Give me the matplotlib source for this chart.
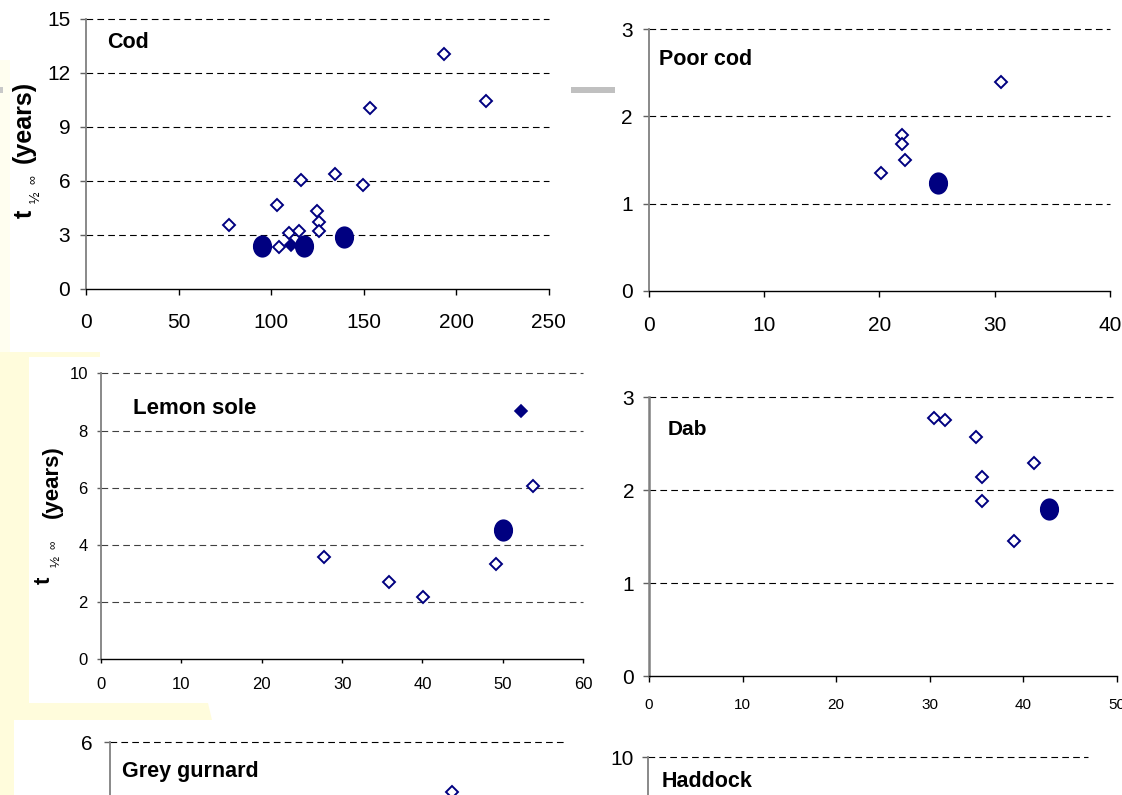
import matplotlib
matplotlib.use("Agg")
import matplotlib.pyplot as plt
from matplotlib.patches import Polygon, Rectangle
from matplotlib.path import Path

plt.rcParams['font.family'] = ['Liberation Sans', 'DejaVu Sans']

W, H = 1122, 795
NAVY = '#000080'
NARROW = ['Liberation Sans Narrow', 'Liberation Sans', 'DejaVu Sans']

# ---- data ----
cod_open_x = [77.2, 103.0, 104.2, 109.6, 115.2, 116.0, 124.6, 125.8, 125.8, 134.4, 149.8, 153.6, 193.6, 216.4]
cod_open_y = [3.56, 4.67, 2.32, 3.10, 3.23, 6.03, 4.30, 3.69, 3.19, 6.40, 5.77, 10.07, 13.05, 10.46]
cod_fill_x = [110.6]
cod_fill_y = [2.43]
cod_mean_x = [95.0, 117.8, 139.4]
cod_mean_y = [2.39, 2.36, 2.88]

poor_open_x = [20.1, 22.0, 22.0, 22.2, 30.5]
poor_open_y = [1.35, 1.79, 1.68, 1.50, 2.39]
poor_mean_x = [25.1]
poor_mean_y = [1.24]

lemon_open_x = [27.7, 35.8, 40.05, 49.2, 53.8]
lemon_open_y = [3.57, 2.70, 2.17, 3.33, 6.05]
lemon_fill_x = [52.2]
lemon_fill_y = [8.67]
lemon_mean_x = [50.0]
lemon_mean_y = [4.52]

dab_open_x = [30.5, 31.7, 35.0, 41.2, 35.6, 35.6, 39.0]
dab_open_y = [2.78, 2.76, 2.57, 2.29, 2.14, 1.88, 1.45]
dab_mean_x = [42.8]
dab_mean_y = [1.80]

gurnard_open_x = [37.6]
gurnard_open_y = [4.9]

cod_xticks = [0, 50, 100, 150, 200, 250]
cod_yticks = [0, 3, 6, 9, 12, 15]
poor_xticks = [0, 10, 20, 30, 40]
poor_yticks = [0, 1, 2, 3]
lemon_xticks = [0, 10, 20, 30, 40, 50, 60]
lemon_yticks = [0, 2, 4, 6, 8, 10]
dab_xticks = [0, 10, 20, 30, 40, 50]
dab_yticks = [0, 1, 2, 3]
gurnard_yticks = [6]     # only the top tick is inside the picture
haddock_yticks = [10]

fig = plt.figure(figsize=(W / 100, H / 100), dpi=100)

def fx(x):
    return x / W

def fy(y):
    return 1 - y / H

# slide remnants: pale yellow strips and grey bars
yellow = '#FFFCDC'
fig.add_artist(Rectangle((0, fy(352)), fx(10), fy(60) - fy(352), transform=fig.transFigure,
                         color='#FFFEF0', lw=0, zorder=-2))
fig.add_artist(Polygon([(fx(0), fy(352)), (fx(100), fy(352)), (fx(100), fy(357)), (fx(29), fy(357)),
                        (fx(29), fy(703)), (fx(208), fy(703)), (fx(212), fy(720)), (fx(14), fy(720)),
                        (fx(14), fy(800)), (fx(0), fy(800))],
                       closed=True, transform=fig.transFigure, color=yellow, lw=0, zorder=-1))
fig.add_artist(Rectangle((fx(571), fy(93)), fx(44), fy(87) - fy(93), transform=fig.transFigure,
                         color='#C0C0C0', lw=0))
fig.add_artist(Rectangle((fx(0), fy(93)), fx(3), fy(87) - fy(93), transform=fig.transFigure,
                         color='#C8C8C8', lw=0))

circ = Path.unit_circle()
oval = Path(circ.vertices * [1, 1.16], circ.codes)


def panel(left, right, top, bottom, xlim, xticks, ylim, yticks,
          fsx, fsy, famx, famy, padx, pady, tlen, ylw=1.3, gcol='black'):
    ax = fig.add_axes([fx(left), fy(bottom), fx(right - left), fy(top) - fy(bottom)])
    ax.set_facecolor('none')
    ax.set_xlim(xlim)
    ax.set_ylim(ylim)
    ax.set_xticks(xticks if xticks is not None else [])
    ax.set_yticks(yticks)
    ax.spines[['top', 'right']].set_visible(False)
    ax.spines['left'].set_color('#808080')
    ax.spines['left'].set_linewidth(ylw)
    ax.spines['bottom'].set_color('black')
    ax.spines['bottom'].set_linewidth(1.0)
    ax.tick_params(axis='x', direction='out', length=tlen, width=1, pad=padx, labelsize=fsx)
    ax.tick_params(axis='y', direction='out', length=tlen, width=1, pad=pady, labelsize=fsy,
                   color='#606060')
    for lab in ax.get_xticklabels():
        lab.set_fontfamily(famx)
    for lab in ax.get_yticklabels():
        lab.set_fontfamily(famy)
    ax.hlines([t for t in yticks if t > 0], xlim[0], xlim[1], colors=gcol,
              linestyles=(0, (6, 3.8)), lw=0.8, clip_on=False, zorder=1)
    return ax


def points(ax, ox, oy, fx_=None, fy_=None, mx=None, my=None):
    ax.plot(ox, oy, ls='none', marker='D', ms=6.1, mfc='white', mec=NAVY, mew=1.4,
            clip_on=False, zorder=3)
    if fx_ is not None:
        ax.plot(fx_, fy_, ls='none', marker='D', ms=6.1, mfc=NAVY, mec=NAVY, mew=1.2,
                clip_on=False, zorder=4)
    if mx is not None:
        ax.plot(mx, my, ls='none', marker=oval, ms=16, mfc=NAVY, mec=NAVY, mew=0,
                clip_on=False, zorder=5)


def title(x, y, s, fs):
    fig.text(fx(x), fy(y), s, fontsize=fs, fontweight='bold', ha='left', va='baseline')


def ylabel(parts):
    # parts: (text, baseline x px, start y px, fontsize, bold)
    for s, bx, sy, fs, bold in parts:
        fig.text(fx(bx), fy(sy), s, rotation=90, rotation_mode='anchor', ha='left',
                 va='baseline', fontsize=fs, fontweight='bold' if bold else 'normal')


# Cod
ax = panel(86, 548.6, 19, 288.7, (0, 250), cod_xticks, (0, 15), cod_yticks,
           15, 15, 'Liberation Sans', 'Liberation Sans', 13, 7, 4.3)
points(ax, cod_open_x, cod_open_y, cod_fill_x, cod_fill_y, cod_mean_x, cod_mean_y)
title(107, 48.5, 'Cod', 15.5)
ylabel([('t', 32, 218, 18, True), ('½', 40, 203, 10, False), ('∞', 36, 184, 9, False),
        ('(years)', 30.5, 163, 18, True)])

# Poor cod
ax = panel(648.5, 1110.2, 29.3, 290.7, (0, 40), poor_xticks, (0, 3), poor_yticks,
           15, 15, 'Liberation Sans', 'Liberation Sans', 14, 7, 4.5)
points(ax, poor_open_x, poor_open_y, mx=poor_mean_x, my=poor_mean_y)
title(658.6, 65, 'Poor cod', 15.5)

# Lemon sole
ax = panel(101, 583.2, 373.3, 659.3, (0, 60), lemon_xticks, (0, 10), lemon_yticks,
           12, 12, NARROW, NARROW, 10, 6.5, 3, gcol='#404040')
points(ax, lemon_open_x, lemon_open_y, lemon_fill_x, lemon_fill_y, lemon_mean_x, lemon_mean_y)
title(133.2, 414, 'Lemon sole', 16)
ylabel([('t', 50, 584, 16, True), ('½', 60, 567, 9.5, False), ('∞', 57, 549, 8.5, False),
        ('(years)', 57.5, 518, 16, True)])

# Dab
ax = panel(649, 1116.6, 397.3, 676, (0, 50), dab_xticks, (0, 3), dab_yticks,
           11, 15, NARROW, 'Liberation Sans', 11.5, 6.5, 4.3, ylw=1.8)
points(ax, dab_open_x, dab_open_y, mx=dab_mean_x, my=dab_mean_y)
title(667.4, 435, 'Dab', 15)

# Grey gurnard (cut off by the bottom edge)
ax = panel(110, 565, 742.3, 1012, (0, 50), None, (0, 6), gurnard_yticks,
           15, 15, 'Liberation Sans', 'Liberation Sans', 8, 8, 4.3)
points(ax, gurnard_open_x, gurnard_open_y)
title(121.7, 776.7, 'Grey gurnard', 15.5)

# Haddock (cut off by the bottom edge)
ax = panel(647.8, 1088, 757.3, 1027, (0, 50), None, (0, 10), haddock_yticks,
           15, 15, 'Liberation Sans', 'Liberation Sans', 8, 6, 4.3)
title(662.1, 786.7, 'Haddock', 15.5)

fig.savefig('out.png', dpi=100)
